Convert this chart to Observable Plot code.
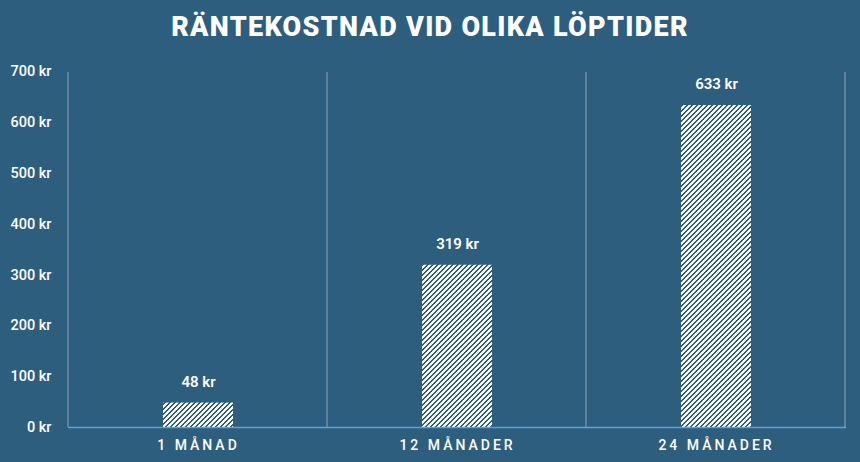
<!DOCTYPE html>
<html>
<head>
<meta charset="utf-8">
<script src="https://cdn.jsdelivr.net/npm/d3@7"></script>
<script src="https://cdn.jsdelivr.net/npm/@observablehq/plot@0.6"></script>
<style>
  html, body { margin: 0; padding: 0; background: #2e5e7e; }
  body { width: 860px; height: 462px; overflow: hidden; font-family: Roboto, "Noto Sans", sans-serif; }
  #title { height: 52px; line-height: 54px; text-align: center; color: #fff; font-family: Roboto, sans-serif; font-weight: 900; font-size: 27px; letter-spacing: 1.3px; }
</style>
</head>
<body>
<div id="title">RÄNTEKOSTNAD VID OLIKA LÖPTIDER</div>
<div id="chart"></div>
<script>
const categories = ["1 MÅNAD", "12 MÅNADER", "24 MÅNADER"];
const values = [48, 319, 633];
const yTicks = [0, 100, 200, 300, 400, 500, 600, 700];
const unit = "kr";

const data = categories.map((c, i) => ({category: c, value: values[i]}));

function bandLines(stroke) {
  return (index, scales, values, dims) => {
    const x = scales.x;
    const [y0, y1] = [scales.y(0), scales.y(700)];
    const r = x.range();
    const step = x.step();
    const g = d3.create("svg:g");
    for (let i = 0; i <= categories.length; i++) {
      const xx = Math.min(r[0], r[1]) + i * step;
      g.append("line").attr("x1", xx).attr("x2", xx).attr("y1", y0).attr("y2", y1 + 1)
        .attr("stroke", stroke).attr("stroke-width", 1.5);
    }
    return g.node();
  };
}

const chart = Plot.plot({
  width: 860,
  height: 410,
  marginLeft: 68,
  marginRight: 14,
  marginTop: 19,
  marginBottom: 35,
  style: {background: "transparent", color: "#fff", fontFamily: "Roboto, sans-serif", fontSize: "14px"},
  x: {domain: categories, paddingInner: 0.73, paddingOuter: 0.365, label: null},
  y: {domain: [0, 700], ticks: yTicks, label: null},
  marks: [
    bandLines("#6f8ea6"),
    Plot.barY(data, {x: "category", y: "value", fill: "url(#hatch)"}),
    Plot.ruleY([0], {stroke: "#5ea3d8", strokeWidth: 1.5}),
    Plot.text(data, {x: "category", y: "value", text: d => `${d.value} ${unit}`, dy: -21, fill: "#fff", fontSize: 15, fontWeight: 600}),
    Plot.axisY({ticks: yTicks, tickSize: 0, tickPadding: 17, tickFormat: d => `${d} ${unit}`, fontSize: 14.5, fontWeight: 500}),
    Plot.axisX({tickSize: 0, tickPadding: 13, fontSize: 14, fontWeight: 500})
  ]
});

// pixel hatch pattern: upward diagonal "/" stripes
const svg = d3.select(chart);
const defs = svg.insert("defs", ":first-child");
const P = 5;
const pat = defs.append("pattern").attr("id", "hatch").attr("patternUnits", "userSpaceOnUse")
  .attr("width", P).attr("height", P);
pat.append("rect").attr("width", P).attr("height", P).attr("fill", "#ffffff");
for (let yy = 0; yy < P; yy++) {
  for (const k of [0, 1]) {
    const xx = ((P - 1 - yy + k) % P + P) % P;
    pat.append("rect").attr("x", xx).attr("y", yy).attr("width", 1).attr("height", 1)
      .attr("fill", "#2e5e7e").attr("shape-rendering", "crispEdges");
  }
}

svg.selectAll("[aria-label='x-axis tick label'] text").style("letter-spacing", "3px");

document.getElementById("chart").appendChild(chart);
</script>
</body>
</html>
